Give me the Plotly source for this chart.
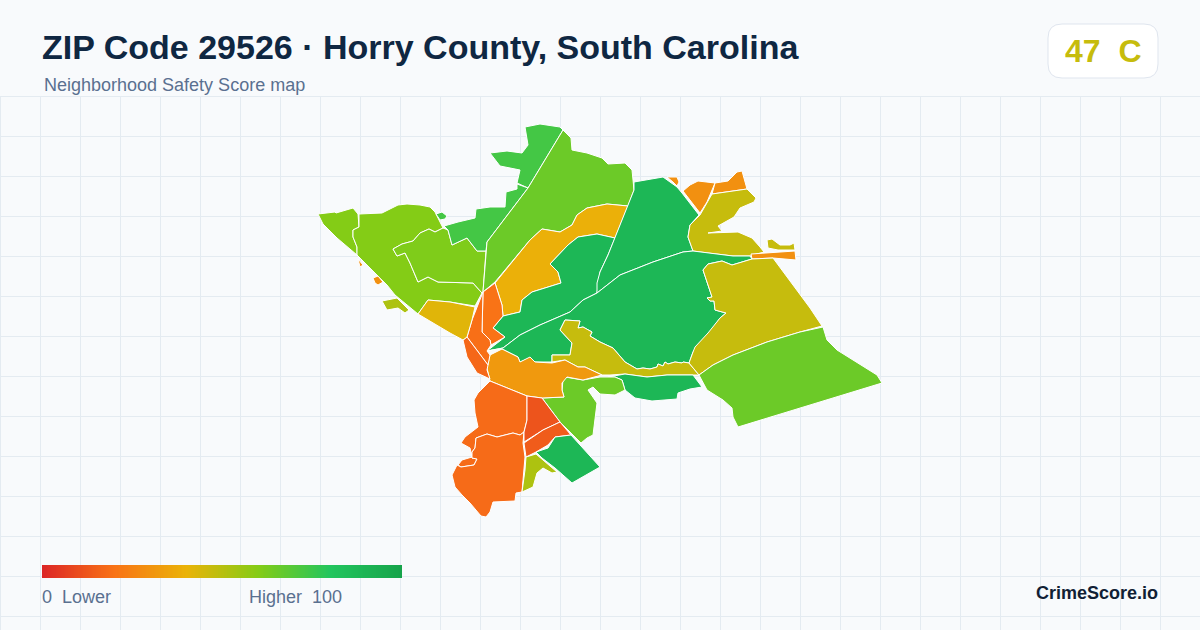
import plotly.graph_objects as go
from plotly.colors import sample_colorscale

TITLE = "ZIP Code 29526 · Horry County, South Carolina"
SUBTITLE = "Neighborhood Safety Score map"
OVERALL_SCORE = 47
OVERALL_GRADE = "C"
BRAND = "CrimeScore.io"
SCALE_LOW = "0\u00a0\u00a0Lower"
SCALE_HIGH = "Higher\u00a0\u00a0100"
GRADIENT = [[0.0, "#dc2626"], [0.2, "#f97316"], [0.4, "#eab308"],
            [0.6, "#84cc16"], [0.8, "#22c55e"], [1.0, "#16a34a"]]
SCALE_VALUES = [v / 2 for v in range(201)]

# Neighbourhood outlines, in map units
NW_TIP = [(318,214),(335,212),(336,213),(353,208),(358,214),(359,227),(353,230),(353,237),(357,247),(357,255),(337,238),(323,224)]
WEST_WRAP = [(359,214),(382,213),(388,210),(398,205),(407,204),(420,205),(430,207),(435,212),(443,228),(435,232),(429,229),(420,233),(413,241),(402,244),(393,249),(397,256),(405,253),(410,263),(418,282),(428,277),(438,282),(473,283),(482,293),(475,306),(450,302),(428,300),(418,314),(395,295),(387,285),(370,268),(357,255),(357,247),(353,237),(353,230),(359,227)]
WEST_INNER = [(443,228),(448,230),(452,245),(467,238),(477,251),(486,251),(483,292),(482,293),(473,283),(438,282),(428,277),(418,282),(410,263),(405,253),(397,256),(393,249),(402,244),(413,241),(420,233),(429,229),(435,232)]
NORTH_TOP = [(525,127),(540,124),(560,127),(563,130),(528,188),(517,183),(520,170),(500,166),(490,153),(507,151),(522,153),(528,145)]
NORTH_MID = [(444,226),(458,222),(475,218),(476,209),(490,207),(505,207),(506,192),(517,189),(517,184),(528,188),(487,242),(486,251),(477,251),(467,238),(452,245),(448,230)]
NORTH_MID_ISLE = [(436,214),(442,212),(447,216),(445,219),(440,220)]
NE_STRIP = [(563,130),(571,138),(572,150),(587,153),(602,158),(608,164),(625,163),(632,170),(634,190),(628,206),(607,204),(587,208),(577,215),(572,225),(560,232),(542,229),(530,240),(495,282),(483,292),(486,251),(487,242),(528,188)]
AMBER_BAND = [(628,206),(615,238),(597,234),(578,237),(568,245),(550,264),(558,272),(561,283),(532,292),(522,300),(520,312),(503,316),(502,305),(495,283),(530,240),(542,229),(560,232),(572,225),(577,215),(587,208),(607,204)]
CENTRAL_WEST = [(615,238),(608,255),(600,272),(597,293),(583,300),(570,312),(540,325),(520,335),(503,348),(487,351),(505,337),(493,328),(503,316),(520,312),(522,300),(532,292),(561,283),(558,272),(550,264),(568,245),(578,237),(597,234)]
CENTRAL_NORTH = [(634,182),(663,177),(677,187),(682,193),(699,215),(690,225),(688,237),(693,251),(683,252),(653,262),(620,275),(597,293),(597,283),(600,272),(608,255),(615,238),(628,206),(634,190)]
ORANGE_SPECK = [(667,177),(677,177),(679,182),(677,186),(673,182)]
ORANGE_NE1 = [(683,191),(690,185),(698,181),(715,183),(707,202),(700,213)]
ORANGE_NE2 = [(715,183),(728,181),(737,172),(742,171),(747,189),(712,194)]
OLIVE_NORTH = [(700,215),(707,202),(712,194),(747,189),(756,198),(754,202),(740,208),(734,217),(718,226),(722,231),(708,233),(738,232),(752,238),(760,247),(764,252),(750,256),(733,256),(708,253),(693,251),(688,237),(690,225)]
OLIVE_NORTH_ISLE = [(767,240),(772,239),(780,245),(790,245),(794,243),(795,250),(778,250),(768,248)]
ORANGE_STRIP = [(751,254),(795,251),(796,260),(773,258),(752,259)]
CENTRAL_BIG = [(597,293),(620,275),(653,262),(683,252),(693,251),(708,253),(733,256),(750,256),(752,259),(732,265),(722,261),(708,264),(703,270),(707,282),(712,297),(707,298),(710,301),(714,301),(715,310),(726,313),(720,318),(710,332),(698,345),(693,352),(689,363),(683,362),(682,363),(675,362),(668,364),(665,362),(663,366),(658,364),(657,367),(650,369),(643,368),(637,369),(625,362),(613,348),(600,342),(590,336),(592,332),(583,327),(578,328),(580,321),(565,320),(560,330),(572,343),(570,355),(552,355),(552,362),(535,362),(530,358),(520,362),(518,357),(502,349),(487,351),(503,348),(520,335),(540,325),(570,312),(583,300)]
OLIVE_CENTRAL = [(560,330),(565,320),(580,321),(578,328),(583,327),(592,332),(590,336),(600,342),(613,348),(625,362),(637,369),(643,368),(650,369),(657,367),(658,364),(663,366),(665,362),(668,364),(675,362),(682,363),(683,362),(689,363),(699,375),(667,375),(647,377),(625,374),(610,375),(602,375),(585,367),(578,367),(565,360),(552,362),(552,355),(570,355),(572,343)]
OLIVE_EAST = [(752,259),(773,258),(810,308),(822,326),(800,332),(767,342),(733,355),(713,365),(699,375),(689,363),(693,352),(695,347),(708,333),(718,320),(720,318),(726,313),(715,310),(714,301),(710,301),(707,298),(712,297),(707,282),(703,270),(708,264),(722,261),(732,265)]
SOUTHEAST = [(699,375),(713,365),(733,355),(767,342),(800,332),(823,327),(827,340),(837,350),(877,375),(882,383),(738,427),(733,417),(732,408),(723,400),(707,390)]
SOUTH_BAND = [(608,377),(625,374),(647,377),(667,375),(693,375),(702,387),(690,389),(678,393),(677,399),(663,400),(652,401),(635,398),(628,393),(625,390),(622,380),(615,377)]
SOUTH_LIME = [(565,377),(583,380),(600,377),(615,377),(622,380),(625,390),(615,395),(600,394),(593,387),(588,390),(597,403),(593,435),(587,438),(581,443),(560,422),(542,398),(564,397),(562,390),(563,380)]
ORANGE_BAND = [(490,355),(502,349),(518,357),(520,362),(530,357),(535,362),(552,363),(565,360),(578,367),(585,367),(602,375),(583,380),(567,377),(562,383),(562,390),(564,397),(542,398),(527,396),(490,381),(487,368)]
SPINE_EAST = [(483,292),(495,283),(502,305),(503,316),(493,328),(505,337),(491,345),(490,340),(482,332)]
SPINE_MID = [(483,292),(482,332),(490,340),(491,345),(487,351),(490,355),(488,365),(467,337),(472,320)]
SPINE_WEST = [(467,337),(463,340),(467,357),(477,373),(490,379),(487,370),(488,365)]
YELLOW_WEST = [(418,314),(428,300),(450,302),(475,307),(472,320),(467,337),(463,340),(450,333)]
SOUTH_UPPER = [(490,381),(527,396),(527,420),(524,432),(520,435),(513,433),(497,437),(487,434),(476,438),(475,448),(472,452),(472,458),(477,459),(474,465),(461,467),(458,465),(462,460),(472,457),(470,448),(461,443),(465,437),(478,427),(475,413),(474,400),(478,393)]
SOUTH_LOWER = [(476,438),(487,434),(497,437),(513,433),(520,435),(524,432),(523,443),(525,457),(522,492),(516,493),(515,501),(493,502),(490,512),(486,517),(481,516),(470,503),(462,495),(455,487),(452,475),(457,465),(461,467),(474,465),(477,459),(472,458),(472,452),(475,448)]
RED_NORTH = [(527,396),(542,398),(560,422),(543,430),(524,442),(524,432),(527,420)]
RED_SOUTH = [(560,422),(571,435),(555,437),(548,445),(536,452),(526,457),(524,443),(543,430)]
GREEN_SOUTH = [(536,452),(548,448),(555,437),(571,435),(600,467),(572,483),(555,468),(542,458)]
LIME_SOUTH = [(526,457),(536,454),(557,472),(552,473),(543,468),(537,473),(533,487),(522,492),(525,470)]
COAST_ISLE1 = [(358,259),(363,265),(360,267),(359,262)]
COAST_ISLE2 = [(373,278),(378,276),(383,282),(378,285),(375,283)]
COAST_ISLE3 = [(382,301),(397,298),(409,310),(405,313),(398,308),(387,310)]

ZONE_SHAPES = [[NW_TIP], [WEST_WRAP], [WEST_INNER], [NORTH_TOP], [NORTH_MID, NORTH_MID_ISLE], [NE_STRIP],
               [AMBER_BAND], [CENTRAL_WEST], [CENTRAL_NORTH], [ORANGE_SPECK], [ORANGE_NE1], [ORANGE_NE2],
               [OLIVE_NORTH, OLIVE_NORTH_ISLE], [ORANGE_STRIP], [CENTRAL_BIG], [OLIVE_CENTRAL], [OLIVE_EAST],
               [SOUTHEAST], [SOUTH_BAND], [SOUTH_LIME], [ORANGE_BAND], [SPINE_EAST], [SPINE_MID], [SPINE_WEST],
               [YELLOW_WEST], [SOUTH_UPPER], [SOUTH_LOWER], [RED_NORTH], [RED_SOUTH], [GREEN_SOUTH], [LIME_SOUTH],
               [COAST_ISLE1, COAST_ISLE2], [COAST_ISLE3]]
ZONE_SCORES = [60, 60, 61, 73, 73, 65,
               39, 88, 88, 29, 29, 29,
               47, 29, 88, 47, 47,
               65, 88, 65, 32, 20, 19, 17,
               42, 18, 18, 12, 14, 88, 52,
               29, 52]


def score_colour(score):
    return sample_colorscale(GRADIENT, [score / 100], colortype="rgb")[0]


fig = go.Figure()
for parts, score in zip(ZONE_SHAPES, ZONE_SCORES):
    xs, ys = [], []
    for part in parts:
        xs += [p[0] for p in part] + [part[0][0], None]
        ys += [p[1] for p in part] + [part[0][1], None]
    fig.add_trace(go.Scatter(x=xs, y=ys, mode="lines", fill="toself", fillcolor=score_colour(score),
                             line=dict(color="#ffffff", width=1), hoverinfo="skip", showlegend=False))

fig.add_trace(go.Heatmap(x=SCALE_VALUES, y=[0, 1], z=[SCALE_VALUES, SCALE_VALUES], colorscale=GRADIENT, zmin=0, zmax=100,
                         zsmooth="best", showscale=False, hoverinfo="skip", xaxis="x2", yaxis="y2"))

W, H = 1200, 630
GRID = "#e4ebf1"
TEXT_MUTED = "#5a7090"
INK = "#0f2742"


def label(x, y, text, size, color, anchor="left", bold=False):
    shift = {"left": -2, "right": 2, "center": 0}[anchor]
    return dict(xref="paper", yref="paper", x=x / W, y=1 - y / H, text=text, showarrow=False, xanchor=anchor,
                yanchor="middle", xshift=shift, font=dict(family="Liberation Sans", size=size, color=color,
                                                          weight=700 if bold else 400))


fig.update_layout(
    width=W, height=H, margin=dict(l=0, r=0, t=0, b=0), paper_bgcolor="#f8fafc", plot_bgcolor="#f8fafc",
    showlegend=False,
    xaxis=dict(domain=[0, 1], range=[0, W], tick0=0.5, dtick=40, showgrid=True, gridcolor=GRID, gridwidth=1,
               zeroline=False, showticklabels=False, ticks="", showline=False, fixedrange=True),
    yaxis=dict(domain=[0, (H - 96) / H], range=[H, 96], tick0=96.5, dtick=40, showgrid=True, gridcolor=GRID, gridwidth=1,
               zeroline=False, showticklabels=False, ticks="", showline=False, fixedrange=True),
    xaxis2=dict(domain=[42 / W, 402 / W], range=[0, 100], visible=False, anchor="y2", fixedrange=True),
    yaxis2=dict(domain=[1 - 578 / H, 1 - 565 / H], range=[0, 1], visible=False, anchor="x2", fixedrange=True),
    shapes=[
        dict(type="path", xref="paper", yref="paper", layer="below",
             path=f"M {1062/W} {1-24/H} L {1144/W} {1-24/H} Q {1158/W} {1-24/H} {1158/W} {1-38/H} "
                  f"L {1158/W} {1-64/H} Q {1158/W} {1-78/H} {1144/W} {1-78/H} L {1062/W} {1-78/H} "
                  f"Q {1048/W} {1-78/H} {1048/W} {1-64/H} L {1048/W} {1-38/H} Q {1048/W} {1-24/H} {1062/W} {1-24/H} Z",
             fillcolor="#ffffff", line=dict(color="#dfe5ee", width=1)),
        dict(type="line", xref="paper", yref="paper", layer="below", x0=0, x1=1, y0=1 - 96.5 / H, y1=1 - 96.5 / H,
             line=dict(color=GRID, width=1)),
        dict(type="line", xref="paper", yref="paper", layer="below", x0=0.5 / W, x1=0.5 / W, y0=0, y1=1 - 96.5 / H,
             line=dict(color=GRID, width=1)),
    ],
    annotations=[
        label(42, 47, TITLE, 34, INK, bold=True),
        label(44, 85, SUBTITLE, 18, TEXT_MUTED),
        label(1103, 51, f"{OVERALL_SCORE}\u00a0\u00a0{OVERALL_GRADE}", 32, score_colour(OVERALL_SCORE), anchor="center", bold=True),
        label(42, 597, SCALE_LOW, 18, TEXT_MUTED),
        label(342, 597, SCALE_HIGH, 18, TEXT_MUTED, anchor="right"),
        label(1158, 593, BRAND, 18, "#111f35", anchor="right", bold=True),
    ],
)

fig.write_html("out.html", config={"displayModeBar": False},
               post_script="document.body.style.margin='0';document.body.style.overflow='hidden';")
